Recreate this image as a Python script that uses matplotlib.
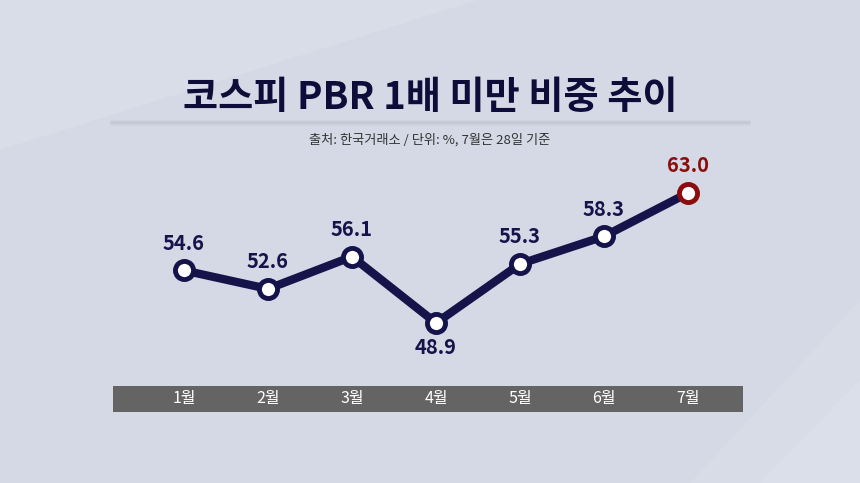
import matplotlib.pyplot as plt
import numpy as np
from matplotlib.transforms import blended_transform_factory

plt.rcParams['font.family'] = ['Noto Sans CJK KR', 'DejaVu Sans']

months = ["1월", "2월", "3월", "4월", "5월", "6월", "7월"]
share = [54.6, 52.6, 56.1, 48.9, 55.3, 58.3, 63.0]
title = "코스피 PBR 1배 미만 비중 추이"
subtitle = "출처: 한국거래소 / 단위: %, 7월은 28일 기준"

NAVY = "#14144a"
RED = "#8c0d0d"
BG = "#d4d9e5"

W, H = 860, 483
fig = plt.figure(figsize=(W / 100, H / 100), dpi=100)
fig.patch.set_facecolor(BG)

# background with faint diagonal bands (pixel coords)
bg = fig.add_axes([0, 0, 1, 1], zorder=-5)
bg.set_xlim(0, W)
bg.set_ylim(H, 0)
bg.axis("off")
bg.fill([0, 860, 860, 0], [150, -120, 0, 0], color="#d9dde8", lw=0)
bg.fill([690, 860, 860], [483, 300, 483], color="#d8dce7", lw=0)
bg.fill([760, 860, 860], [483, 380, 483], color="#dbdfe9", lw=0)

# separator under title: soft shadow line
for dy, a in [(-2, 0.05), (-1, 0.12), (0, 0.2), (1, 0.14), (2, 0.07), (3, 0.03)]:
    bg.plot([110, 750], [122 + dy, 122 + dy], color="#8a90a3", alpha=a, lw=1,
            solid_capstyle="butt")

fig.text(0.5, 1 - 97 / H, title, ha="center", va="center", fontsize=27.5,
         fontweight="heavy", color="#0d0d3a")
fig.text(0.5, 1 - 140 / H, subtitle, ha="center", va="center", fontsize=9.5,
         color="#333333")

# gray month bar
bar = fig.add_axes([113 / W, 1 - 412 / H, 630 / W, 26 / H], zorder=-1)
bar.set_facecolor("#646464")
bar.set_xticks([])
bar.set_yticks([])
for s in bar.spines.values():
    s.set_visible(False)

# data axes: x 0..6 -> 184..688 px, y 48.9..63.0 -> 323..193 px
ppx = 84.0
ppy = 130 / 14.1
x0, x1 = -0.5, 6.5
y0, y1 = 45.0, 66.0
left = 184 - 0.5 * ppx
bottom_px = 323 + (48.9 - y0) * ppy
height_px = (y1 - y0) * ppy
ax = fig.add_axes([left / W, 1 - bottom_px / H, (x1 - x0) * ppx / W, height_px / H])
ax.set_xlim(x0, x1)
ax.set_ylim(y0, y1)
ax.axis("off")

x = np.arange(len(share))
ax.plot(x, share, color=NAVY, lw=6, solid_joinstyle="miter", zorder=2)
ax.scatter(x[:-1], share[:-1], s=170, facecolor="white", edgecolor=NAVY,
           linewidth=3.5, zorder=3)
ax.scatter(x[-1:], share[-1:], s=170, facecolor="white", edgecolor=RED,
           linewidth=3.5, zorder=3)

for i, v in enumerate(share):
    below = i == 3
    col = RED if i == len(share) - 1 else NAVY
    ax.annotate(f"{v:.1f}", (i, v), xytext=(0, -24 if below else 27),
                textcoords="offset pixels",
                ha="center", va="center", fontsize=14.5, fontweight="heavy",
                color=col)

tr = blended_transform_factory(ax.transData, fig.transFigure)
for i, m in enumerate(months):
    ax.text(i, 1 - 399 / H, m, transform=tr, ha="center", va="center",
            fontsize=11.5, color="white", clip_on=False)

fig.savefig("out.png", dpi=100, facecolor=fig.get_facecolor())
